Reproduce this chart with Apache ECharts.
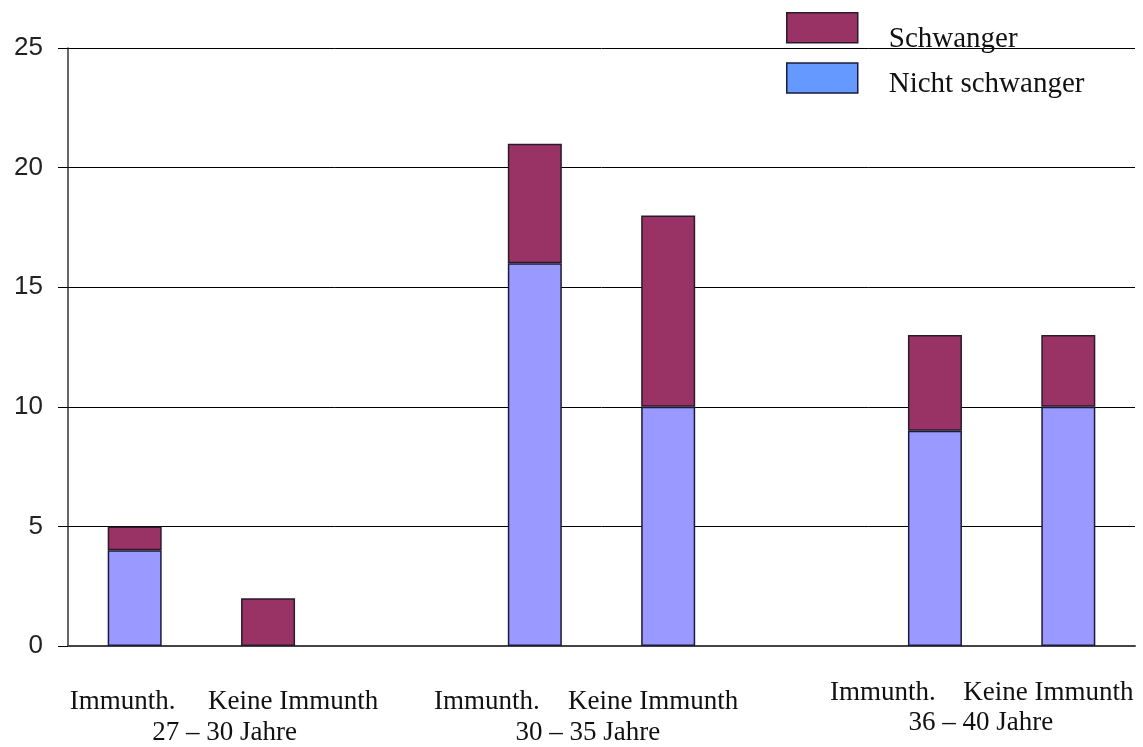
<!DOCTYPE html>
<html>
<head>
<meta charset="utf-8">
<script src="https://cdn.jsdelivr.net/npm/echarts@6/dist/echarts.min.js"></script>
<style>html,body{margin:0;padding:0;background:#fff;}#c{width:1143px;height:747px;}</style>
</head>
<body>
<div id="c"></div>
<script>
// 8 slots: two bars per age group plus empty gaps between groups
const categories = ["Immunth.", "Keine Immunth", "", "Immunth.", "Keine Immunth", "", "Immunth.", "Keine Immunth"];
const groupLabels = ["27 – 30 Jahre", "", "", "30 – 35 Jahre", "", "", "36 – 40 Jahre", ""];
const nichtSchwanger = [4, null, null, 16, 10, null, 9, 10];
const schwanger = [1, 2, null, 5, 8, null, 4, 3];
const yTicks = { min: 0, max: 25, interval: 5 };

// per-label nudges (dx: horizontal shift of centre, dy: downward shift)
const catNudge = [[-12, 9], [25, 9], [0, 0], [-48, 9], [-15, 9], [0, 0], [-52, 0], [-20, 0]];
const grpNudge = [[90, 10], [0, 0], [0, 0], [53, 10], [0, 0], [0, 0], [46, 0], [0, 0]];

function pad(n) {
  const dx = n[0], dy = n[1];
  return [dy, dx < 0 ? -2 * dx : 0, 0, dx > 0 ? 2 * dx : 0];
}
const serif = '"Liberation Serif", "Times New Roman", serif';
const catData = categories.map((c, i) => ({ value: c, textStyle: { padding: pad(catNudge[i]) } }));
const grpData = groupLabels.map((c, i) => ({ value: c, textStyle: { padding: pad(grpNudge[i]) } }));

const chart = echarts.init(document.getElementById('c'), null, { renderer: 'canvas' });
chart.setOption({
  animation: false,
  backgroundColor: '#ffffff',
  grid: { left: 68, right: 8, top: 48, bottom: 101 },
  legend: {
    orient: 'vertical', left: 786, top: 12, padding: 0,
    itemWidth: 71, itemHeight: 30, itemGap: 8,
    icon: 'rect',
    formatter: function (name) { return name === 'Schwanger' ? '{s|' + name + '}' : '{n|' + name + '}'; },
    textStyle: {
      fontFamily: serif, fontSize: 29, color: '#111',
      rich: {
        s: { fontFamily: serif, fontSize: 29, color: '#111', padding: [24, 0, 0, 26] },
        n: { fontFamily: serif, fontSize: 29, color: '#111', padding: [12, 0, 0, 26] }
      }
    },
    data: [
      { name: 'Schwanger', itemStyle: { color: '#993366', borderColor: '#2a1a2a', borderWidth: 1.5 } },
      { name: 'Nicht schwanger', itemStyle: { color: '#6699FF', borderColor: '#1a1a3a', borderWidth: 1.5 } }
    ]
  },
  xAxis: [
    {
      type: 'category', data: catData, position: 'bottom',
      axisLine: { show: true, lineStyle: { color: '#444', width: 2 } },
      axisTick: { show: false },
      axisLabel: { interval: 0, margin: 33, fontFamily: serif, fontSize: 27, color: '#111' }
    },
    {
      type: 'category', data: grpData, position: 'bottom',
      axisLine: { show: false }, axisTick: { show: false }, splitLine: { show: false },
      axisLabel: { interval: 0, margin: 63, fontFamily: serif, fontSize: 27, color: '#111' }
    }
  ],
  yAxis: {
    type: 'value', min: yTicks.min, max: yTicks.max, interval: yTicks.interval,
    axisLine: { show: true, lineStyle: { color: '#333', width: 1.5 } },
    axisTick: { show: true, length: 10, lineStyle: { color: '#000', width: 1 } },
    splitLine: { show: true, lineStyle: { color: '#000', width: 1 } },
    axisLabel: { margin: 25, fontFamily: '"Liberation Sans", Arial, sans-serif', fontSize: 26, color: '#222' }
  },
  series: [
    {
      name: 'Nicht schwanger', type: 'bar', stack: 'a', barWidth: 54, data: nichtSchwanger,
      itemStyle: { color: '#9999FF', borderColor: '#1a1a3a', borderWidth: 1.5 }
    },
    {
      name: 'Schwanger', type: 'bar', stack: 'a', barWidth: 54, data: schwanger,
      itemStyle: { color: '#993366', borderColor: '#2a1a2a', borderWidth: 1.5 }
    }
  ]
});
</script>
</body>
</html>
